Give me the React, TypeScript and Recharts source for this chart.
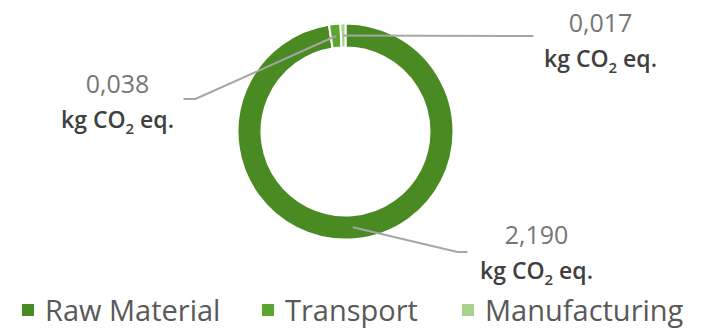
import React from 'react';
import { PieChart, Pie, Cell, Legend } from 'recharts';

document.body.style.margin = '0';

const categories = ['Raw Material', 'Transport', 'Manufacturing'];
const emissions = [2.19, 0.038, 0.017];
const colors = ['#4a8a22', '#5da52f', '#a9d18e'];
const unitLabel = 'kg CO';

const data = categories.map((name, i) => ({ name, value: emissions[i] }));

// label placement relative to pie centre (elbow, end of line, text centre, baselines)
const labelLayout = [
  { elbow: [112, 120.5], end: [122, 120.5], tx: 191, b1: 112.5, b2: 147.5 },
  { elbow: [-150, -32.5], end: [-162, -32.5], tx: -228, b1: -38.5, b2: -3.5 },
  { elbow: [172, -95.5], end: [188, -95.5], tx: 255, b1: -99.5, b2: -64.5 },
];

const legendX = [22, 262, 462];

const RADIAN = Math.PI / 180;

const renderLabel = (props: any) => {
  const { cx, cy, midAngle, innerRadius, outerRadius, index, value } = props;
  const lay = labelLayout[index];
  const r = (innerRadius + outerRadius) / 2;
  const sx = cx + r * Math.cos(-midAngle * RADIAN);
  const sy = cy + r * Math.sin(-midAngle * RADIAN);
  const pts = `${sx},${sy} ${cx + lay.elbow[0]},${cy + lay.elbow[1]} ${cx + lay.end[0]},${cy + lay.end[1]}`;
  return (
    <g>
      <polyline points={pts} fill="none" stroke="#a6a6a6" strokeWidth={2} />
      <text
        x={cx + lay.tx}
        y={cy + lay.b1}
        textAnchor="middle"
        fontFamily="Open Sans"
        fontSize={25}
        fill="#767676"
      >
        {value.toFixed(3).replace('.', ',')}
      </text>
      <text
        x={cx + lay.tx}
        y={cy + lay.b2}
        textAnchor="middle"
        fontFamily="Open Sans"
        fontSize={23}
        fontWeight={600}
        fill="#404040"
      >
        {unitLabel}
        <tspan fontSize={15} dy={6}>2</tspan>
        <tspan dy={-6}> eq.</tspan>
      </text>
    </g>
  );
};

const renderLegend = () => (
  <div style={{ position: 'relative', width: 710, height: 36 }}>
    {categories.map((name, i) => (
      <div
        key={name}
        style={{
          position: 'absolute',
          left: legendX[i],
          top: 0,
          display: 'flex',
          alignItems: 'center',
          fontFamily: 'Open Sans',
          fontSize: 29,
          color: '#595959',
          whiteSpace: 'nowrap',
        }}
      >
        <span style={{ width: 12, height: 12, background: colors[i], marginRight: 11, display: 'inline-block' }} />
        <span>{name}</span>
      </div>
    ))}
  </div>
);

export default function App() {
  return (
    <div style={{ width: 710, height: 331, background: '#fff' }}>
      <PieChart width={710} height={331} margin={{ top: 0, right: 0, bottom: 0, left: 0 }}>
        <Pie
          data={data}
          dataKey="value"
          nameKey="name"
          cx={345.5}
          cy={131.5}
          innerRadius={84}
          outerRadius={108}
          startAngle={90}
          endAngle={-270}
          stroke="#ffffff"
          strokeWidth={2}
          label={renderLabel}
          labelLine={false}
          isAnimationActive={false}
        >
          {data.map((d, i) => (
            <Cell key={d.name} fill={colors[i]} />
          ))}
        </Pie>
        <Legend
          content={renderLegend}
          wrapperStyle={{ position: 'absolute', left: 0, top: 290, width: 710 }}
        />
      </PieChart>
    </div>
  );
}
